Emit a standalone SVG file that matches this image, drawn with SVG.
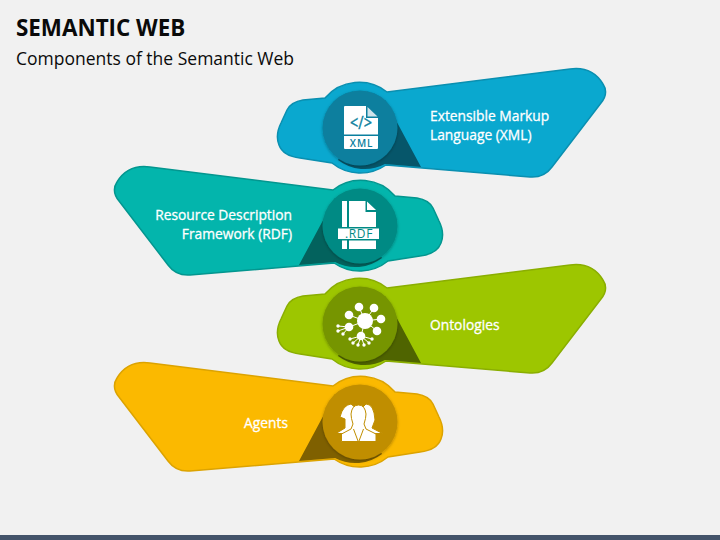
<svg xmlns="http://www.w3.org/2000/svg" width="720" height="540" viewBox="0 0 720 540">
<style>
text{font-family:"Open Sans","Liberation Sans",sans-serif}
.title{font-size:22.400px;font-weight:700;fill:#0a0a0a}
.sub{font-size:17.500px;fill:#0a0a0a}
.lbl{font-size:13.800px;fill:#fff;stroke:#fff;stroke-width:.3px}
.blob{stroke-width:1.500}
.w{fill:#fff}
.ico{font-size:10px;font-weight:600;text-anchor:middle;letter-spacing:.8px}
</style>
<defs>
<path id="blob" d="M387 92L570 69Q592 66 603 84Q609 93 601 103L552 167Q544 178 530 177L386 165A45 45 0 0 1 332 163L300 158Q283 156 279 145Q275 135 281 123L287 110Q291 102 303 100L325 98A45 45 0 0 1 387 92Z"/>
<path id="wedge" d="M385 100L421 167L385 164A43.500 43.500 0 0 1 338 160L360 128Z"/>
<circle id="disc" cx="360" cy="128" r="37.500"/>
<filter id="sh" x="-20%" y="-20%" width="140%" height="140%"><feDropShadow dx="0" dy="1" stdDeviation="1.500" flood-color="#000" flood-opacity=".3"/></filter>
</defs>
<rect width="720" height="540" fill="#f1f1f1"/>
<rect y="535" width="720" height="5" fill="#44546a"/>
<text class="title" x="16" y="36">SEMANTIC WEB</text>
<text class="sub" x="16" y="65">Components of the Semantic Web</text>

<g id="node-xml">
<use href="#blob" class="blob" fill="#0aa8cf" stroke="#0a8fb0"/>
<use href="#wedge" fill="#06566a"/>
<use href="#disc" fill="#0a7f9e" filter="url(#sh)"/>
<path class="w" d="M345 106H366V118H378V148Q378 149 377 149H345Q344 149 344 148V107Q344 106 345 106Z"/>
<path d="M367.500 107L377.500 116.500H367.500Z" fill="#cfe3ea"/>
<rect x="344" y="134.500" width="34" height="1.500" fill="#0a7f9e"/>
<text x="0" y="0" font-size="14.500" text-anchor="middle" fill="#0a7f9e" stroke="#0a7f9e" stroke-width=".3" transform="translate(361,129) scale(1,1.250)">&lt;/&gt;</text>
<text class="ico" x="361.500" y="147" fill="#0a7f9e">XML</text>
<text class="lbl" x="430" y="121">Extensible Markup</text>
<text class="lbl" x="430" y="140">Language (XML)</text>
</g>

<g id="node-rdf">
<use href="#blob" class="blob" transform="translate(720,98) scale(-1,1)" fill="#03b5ac" stroke="#03968f"/>
<use href="#wedge" transform="translate(720,98) scale(-1,1)" fill="#03625d"/>
<use href="#disc" transform="translate(720,98) scale(-1,1)" fill="#028a84" filter="url(#sh)"/>
<rect class="w" x="342" y="201" width="5" height="26"/>
<rect class="w" x="342" y="240.500" width="5" height="8.500"/>
<path class="w" d="M349 201H365.500V212H376V227H349Z"/>
<rect class="w" x="349" y="240.500" width="27" height="8.500"/>
<path class="w" d="M367 201.500L376 210H367Z"/>
<rect class="w" x="338" y="228.500" width="41" height="10.500"/>
<text x="359" y="238" font-size="12" text-anchor="middle" letter-spacing=".6" fill="#028a84">.RDF</text>
<text class="lbl" x="292" y="220" text-anchor="end">Resource Description</text>
<text class="lbl" x="292" y="239" text-anchor="end">Framework (RDF)</text>
</g>

<g id="node-ontologies">
<use href="#blob" class="blob" transform="translate(0,196)" fill="#9dc600" stroke="#8aae00"/>
<use href="#wedge" transform="translate(0,196)" fill="#4f6400"/>
<use href="#disc" transform="translate(0,196)" fill="#769500" filter="url(#sh)"/>
<g stroke="#fff" stroke-width="1" fill="none">
<path d="M365 321L359 307M365 321L374 308M365 321L349 315M365 321L381 319M365 321L377 331M365 321L349 327M365 321L361 336M349 327L338 326M349 327L338 331M349 327L343 334M361 336L350 339M361 336L353 343M361 336L358 345M361 336L364 345M361 336L369 343M361 336L372 339"/>
</g>
<g class="w">
<circle cx="365" cy="321" r="8"/><circle cx="359" cy="307" r="4.300"/><circle cx="374" cy="308" r="4.300"/><circle cx="349" cy="315" r="4.300"/><circle cx="381" cy="319" r="4.300"/><circle cx="377" cy="331" r="4.300"/><circle cx="349" cy="327" r="4.300"/><circle cx="361" cy="336" r="4.300"/>
<circle cx="338" cy="326" r="1.700"/><circle cx="338" cy="331" r="1.700"/><circle cx="343" cy="334" r="1.700"/>
<circle cx="350" cy="339" r="1.700"/><circle cx="353" cy="343" r="1.700"/><circle cx="358" cy="345" r="1.700"/><circle cx="364" cy="345" r="1.700"/><circle cx="369" cy="343" r="1.700"/><circle cx="372" cy="339" r="1.700"/>
</g>
<text class="lbl" x="430" y="330">Ontologies</text>
</g>

<g id="node-agents">
<use href="#blob" class="blob" transform="translate(720,294) scale(-1,1)" fill="#fbb900" stroke="#dca300"/>
<use href="#wedge" transform="translate(720,294) scale(-1,1)" fill="#7f6000"/>
<use href="#disc" transform="translate(720,294) scale(-1,1)" fill="#c08e00" filter="url(#sh)"/>
<g class="w" stroke="#c08e00" stroke-width="1">
<path d="M336 433.500L345 428L345 419L340 417Q343 405 351 404L358 410L356 424L354 433.500Z"/>
<path d="M382.500 433.500L372 428L375 420Q374 404 366 404L360 410L362 424L364 433.500Z"/>
<path d="M341.500 441.500V434L351 429L353 424Q351 418 351 414Q352 405 358.500 405Q365 405 366 414Q366 418 364 424L366 429L376 434V441.500Z"/>
<path d="M353.500 429L358 441M363.500 429L359 441" fill="none"/>
</g>
<text class="lbl" x="288" y="428" text-anchor="end">Agents</text>
</g>
</svg>
